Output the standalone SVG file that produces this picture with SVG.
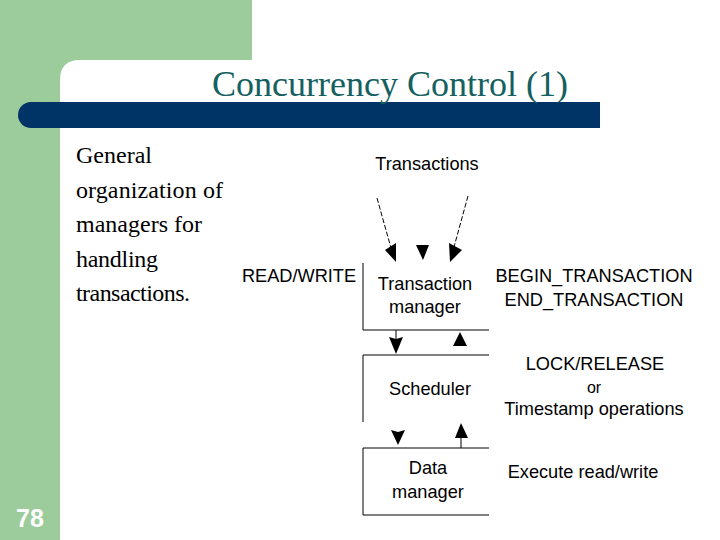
<svg xmlns="http://www.w3.org/2000/svg" width="720" height="540" viewBox="0 0 720 540">
<defs>
<style>
.t{font-family:"Liberation Serif",serif;font-size:24px;fill:#000}
.s{font-family:"Liberation Sans",Arial,sans-serif;font-size:18.2px;fill:#000;text-anchor:middle}
.l{stroke:#000;stroke-width:1;fill:none}
.d{stroke:#000;stroke-width:1;fill:none;stroke-dasharray:5 2}
.a{fill:#000;stroke:none}
</style>
</defs>
<rect width="720" height="540" fill="#fff"/>
<g id="background">
<path d="M0 0H252V60H80Q60 60 60 80V540H0Z" fill="#9ccc9c"/>
<path d="M31 102H600V128H31A13 13 0 0 1 31 102Z" fill="#003366"/>
</g>
<text x="390" y="96" text-anchor="middle" font-family="Liberation Serif,serif" font-size="36" fill="#156060">Concurrency Control (1)</text>
<g id="body">
<text class="t" x="76" y="163">General</text>
<text class="t" x="76" y="198" textLength="147">organization of</text>
<text class="t" x="76" y="232" textLength="126">managers for</text>
<text class="t" x="76" y="267" textLength="82">handling</text>
<text class="t" x="76" y="301" textLength="114">transactions.</text>
</g>
<text x="30" y="527" text-anchor="middle" font-family="Liberation Sans,Arial,sans-serif" font-weight="bold" font-size="25" fill="#fff">78</text>
<g id="transactions"><text class="s" x="427" y="170">Transactions</text></g>
<g id="transaction-manager">
<path class="l" d="M363 263V330H489"/>
<text class="s" x="425" y="290">Transaction</text>
<text class="s" x="425" y="313">manager</text>
</g>
<g id="scheduler">
<path class="l" d="M363 422V355H489"/>
<text class="s" x="430" y="395">Scheduler</text>
</g>
<g id="data-manager">
<path class="l" d="M489 448H363V515H489"/>
<text class="s" x="428" y="474">Data</text>
<text class="s" x="428" y="498">manager</text>
</g>
<g id="labels">
<text class="s" x="299" y="282">READ/WRITE</text>
<text class="s" x="594" y="282">BEGIN_TRANSACTION</text>
<text class="s" x="594" y="306">END_TRANSACTION</text>
<text class="s" x="595" y="370">LOCK/RELEASE</text>
<text class="s" x="594" y="393" style="font-size:16px">or</text>
<text class="s" x="594" y="415">Timestamp operations</text>
<text class="s" x="583" y="478">Execute read/write</text>
</g>
<g id="connectors">
<path class="d" d="M377 198L391 248"/>
<path class="d" d="M468 196L454 247"/>
<path class="a" d="M385 250L396 243V262Z"/>
<path class="a" d="M416 245H429L423 260Z"/>
<path class="a" d="M449 243L462 250L450 262Z"/>
<path class="l" d="M396 330V340"/>
<path class="a" d="M389 337L396 339L403 337L396 354Z"/>
<path class="a" d="M453 346L460 332L467 346Z"/>
<path class="a" d="M391 430L398 432L405 430L398 445Z"/>
<path class="l" d="M461 448V435"/>
<path class="a" d="M455 438L461 423L468 438Z"/>
</g>
</svg>
